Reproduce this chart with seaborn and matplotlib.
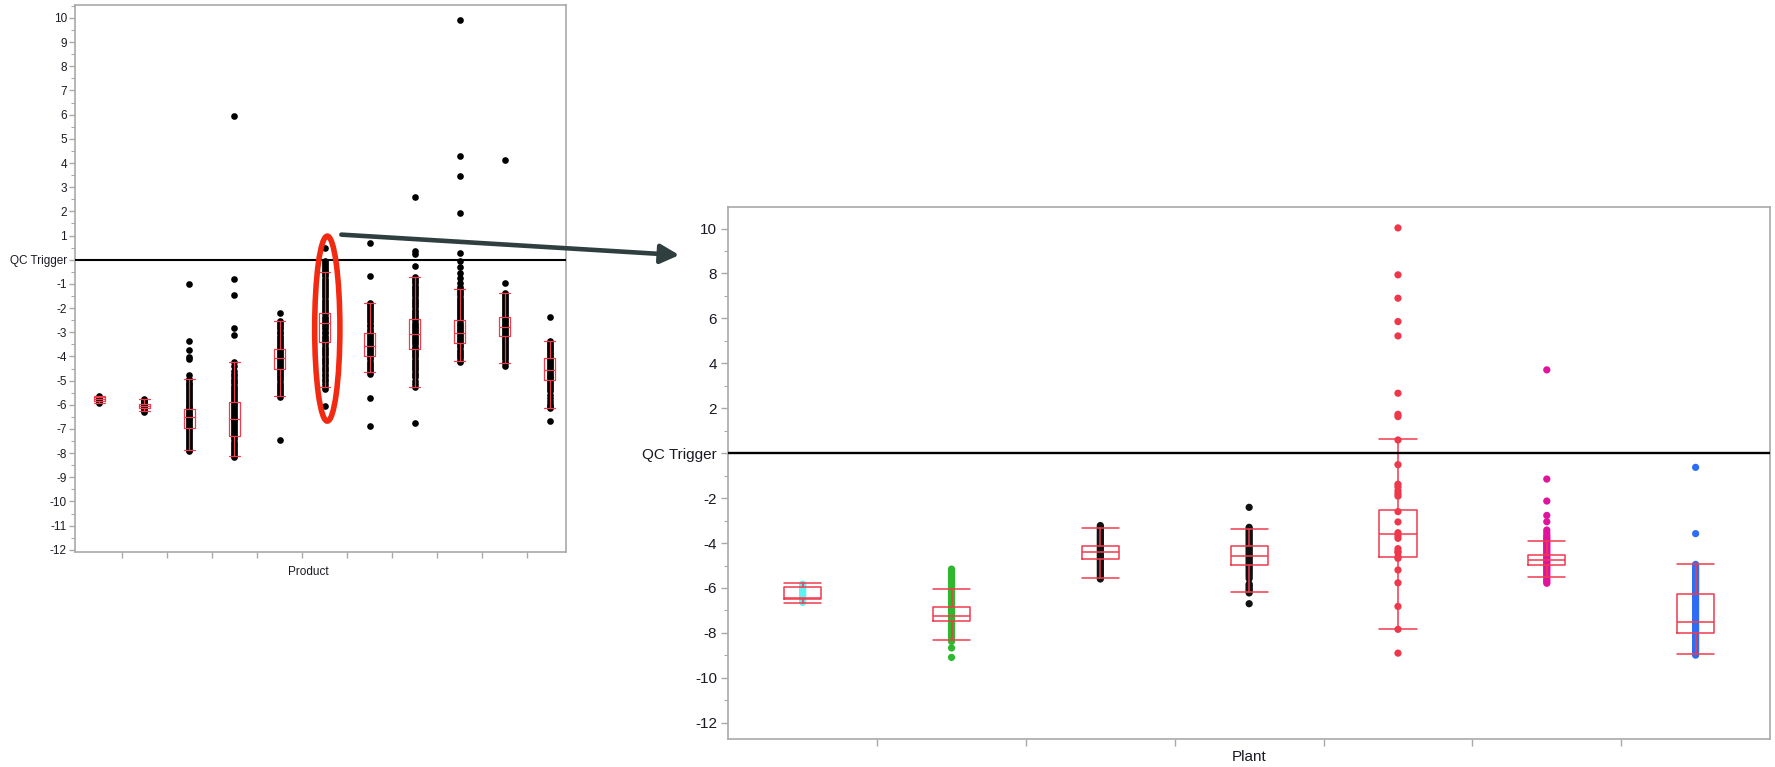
import matplotlib
matplotlib.use("Agg")
import matplotlib.pyplot as plt
import pandas as pd
import seaborn as sns
from matplotlib.patches import Ellipse, FancyArrowPatch
from matplotlib.ticker import FixedLocator, MultipleLocator

# ---------------------------------------------------------------- data
# Left panel: deviation by product (11 products)
products = ["P01", "P02", "P03", "P04", "P05", "P06", "P07", "P08", "P09", "P10", "P11"]
prod_01 = [-5.63, -5.66, -5.70, -5.73, -5.75, -5.77, -5.80, -5.82, -5.85, -5.88, -5.91]
prod_02 = [-5.76, -5.80, -5.86, -5.90, -5.95, -5.98, -6.00, -6.03, -6.05, -6.08, -6.12, -6.15, -6.19, -6.24, -6.28]
prod_03 = [-1.01, -3.36, -3.73, -4.03, -4.09, -4.78, -4.92, -4.99, -5.08, -5.15, -5.24, -5.31, -5.40, -5.49,
           -5.56, -5.64, -5.73, -5.80, -5.88, -5.97, -6.04, -6.11, -6.18, -6.26, -6.33, -6.41, -6.47, -6.53,
           -6.60, -6.68, -6.75, -6.83, -6.90, -6.97, -7.06, -7.13, -7.21, -7.30, -7.38, -7.47, -7.55, -7.64,
           -7.72, -7.80, -7.87, -7.92]
prod_04 = [5.96, -0.79, -1.46, -2.82, -3.12, -4.23, -4.41, -4.60, -4.71, -4.83, -4.92, -5.02, -5.11, -5.21,
           -5.30, -5.38, -5.47, -5.55, -5.64, -5.72, -5.81, -5.89, -5.97, -6.05, -6.13, -6.20, -6.29, -6.37,
           -6.46, -6.53, -6.61, -6.69, -6.77, -6.85, -6.93, -7.01, -7.10, -7.18, -7.26, -7.35, -7.43, -7.52,
           -7.61, -7.69, -7.78, -7.86, -7.95, -8.03, -8.10, -8.14]
prod_05 = [-2.19, -2.54, -2.62, -2.71, -2.79, -2.88, -2.97, -3.05, -3.14, -3.23, -3.31, -3.40, -3.48, -3.57,
           -3.66, -3.74, -3.82, -3.90, -3.98, -4.05, -4.13, -4.21, -4.30, -4.38, -4.47, -4.55, -4.64, -4.73,
           -4.81, -4.90, -4.99, -5.08, -5.17, -5.26, -5.35, -5.44, -5.52, -5.60, -5.68, -7.45]
prod_06 = [0.48, -0.05, -0.13, -0.21, -0.29, -0.38, -0.46, -0.52, -0.61, -0.69, -0.78, -0.86, -0.95, -1.04,
           -1.12, -1.21, -1.30, -1.38, -1.47, -1.56, -1.65, -1.73, -1.82, -1.91, -2.00, -2.09, -2.17, -2.26,
           -2.35, -2.44, -2.53, -2.61, -2.70, -2.79, -2.88, -2.97, -3.05, -3.14, -3.23, -3.32, -3.41, -3.50,
           -3.59, -3.68, -3.77, -3.86, -3.96, -4.05, -4.14, -4.24, -4.33, -4.43, -4.53, -4.62, -4.72, -4.82,
           -4.93, -5.03, -5.14, -5.26, -5.36, -6.03]
prod_07 = [0.68, -0.67, -1.77, -1.84, -1.93, -2.01, -2.09, -2.18, -2.26, -2.34, -2.43, -2.51, -2.59, -2.68,
           -2.76, -2.85, -2.93, -3.02, -3.10, -3.19, -3.27, -3.36, -3.44, -3.53, -3.61, -3.70, -3.78, -3.87,
           -3.95, -4.04, -4.12, -4.21, -4.30, -4.39, -4.47, -4.56, -4.64, -4.72, -5.70, -6.86]
prod_08 = [2.58, 0.34, 0.24, -0.24, -0.72, -0.80, -0.89, -0.98, -1.07, -1.16, -1.25, -1.34, -1.43, -1.52,
           -1.61, -1.70, -1.79, -1.88, -1.97, -2.06, -2.15, -2.24, -2.33, -2.42, -2.51, -2.60, -2.69, -2.78,
           -2.87, -2.96, -3.05, -3.14, -3.23, -3.32, -3.41, -3.50, -3.59, -3.68, -3.77, -3.86, -3.95, -4.04,
           -4.13, -4.22, -4.31, -4.40, -4.49, -4.58, -4.67, -4.76, -4.86, -5.01, -5.14, -5.26, -6.74]
prod_09 = [9.92, 4.29, 3.45, 1.95, 0.27, -0.05, -0.29, -0.53, -0.74, -0.97, -1.11, -1.22, -1.31, -1.39,
           -1.48, -1.57, -1.65, -1.74, -1.83, -1.91, -2.00, -2.08, -2.17, -2.26, -2.34, -2.43, -2.51, -2.60,
           -2.68, -2.77, -2.86, -2.94, -3.03, -3.11, -3.20, -3.28, -3.37, -3.46, -3.54, -3.63, -3.72, -3.81,
           -3.90, -3.99, -4.08, -4.19, -4.25]
prod_10 = [4.13, -0.97, -1.39, -1.47, -1.55, -1.63, -1.71, -1.80, -1.88, -1.96, -2.04, -2.12, -2.21, -2.29,
           -2.37, -2.45, -2.53, -2.61, -2.70, -2.78, -2.86, -2.94, -3.02, -3.11, -3.19, -3.27, -3.36, -3.44,
           -3.52, -3.61, -3.69, -3.78, -3.86, -3.95, -4.03, -4.12, -4.21, -4.29, -4.38]
prod_11 = [-2.37, -3.35, -3.43, -3.51, -3.59, -3.67, -3.75, -3.83, -3.91, -3.99, -4.07, -4.15, -4.23, -4.31,
           -4.39, -4.47, -4.55, -4.63, -4.71, -4.79, -4.87, -4.95, -5.03, -5.11, -5.19, -5.27, -5.35, -5.44,
           -5.58, -5.72, -5.86, -5.95, -6.03, -6.10, -6.14, -6.69]

# Box-plot summaries per product
prod_whisker_hi = [-5.63, -5.76, -4.92, -4.23, -2.54, -0.52, -1.77, -0.72, -1.22, -1.39, -3.35]
prod_q3 = [-5.66, -5.96, -6.18, -5.87, -3.70, -2.19, -3.04, -2.46, -2.49, -2.38, -4.05]
prod_median = [-5.76, -6.03, -6.49, -6.60, -4.05, -2.63, -3.56, -3.08, -3.04, -2.79, -4.56]
prod_q1 = [-5.86, -6.13, -6.97, -7.29, -4.52, -3.39, -3.97, -3.68, -3.43, -3.14, -4.98]
prod_whisker_lo = [-5.91, -6.24, -7.87, -8.10, -5.63, -5.26, -4.64, -5.26, -4.19, -4.26, -6.14]

# Right panel: deviation by plant for the highlighted product
plants = ["Plant A", "Plant B", "Plant C", "Plant D", "Plant E", "Plant F", "Plant G"]
plant_colors = ["#5ef2f2", "#2db82d", "#111111", "#111111", "#f0364a", "#e0139c", "#2e6cf4"]
plant_a = [-5.83, -5.89, -5.96, -6.04, -6.11, -6.19, -6.27, -6.34, -6.41, -6.49, -6.56, -6.64]
plant_b = [-5.16, -5.21, -5.28, -5.36, -5.43, -5.51, -5.59, -5.66, -5.74, -5.82, -5.89, -5.97, -6.05,
           -6.12, -6.20, -6.28, -6.35, -6.43, -6.51, -6.58, -6.66, -6.74, -6.82, -6.89, -6.97, -7.05,
           -7.13, -7.20, -7.28, -7.36, -7.44, -7.52, -7.60, -7.68, -7.76, -7.84, -7.93, -8.02, -8.11,
           -8.20, -8.29, -8.38, -8.67, -9.09]
plant_c = [-3.22, -3.28, -3.35, -3.42, -3.49, -3.56, -3.63, -3.70, -3.77, -3.84, -3.91, -3.98, -4.05,
           -4.12, -4.19, -4.26, -4.33, -4.40, -4.47, -4.54, -4.61, -4.68, -4.75, -4.82, -4.90, -4.97,
           -5.05, -5.13, -5.21, -5.29, -5.37, -5.45, -5.53, -5.60]
plant_d = [-2.41, -3.30, -3.37, -3.45, -3.53, -3.61, -3.69, -3.77, -3.85, -3.93, -4.01, -4.09, -4.17,
           -4.25, -4.33, -4.41, -4.49, -4.57, -4.65, -4.73, -4.81, -4.89, -4.97, -5.05, -5.13, -5.21,
           -5.30, -5.39, -5.48, -5.58, -5.82, -5.88, -5.95, -6.02, -6.09, -6.16, -6.22, -6.70]
plant_e = [10.03, 7.94, 6.90, 5.86, 5.22, 2.67, 1.73, 1.63, 0.59, -0.51, -1.38, -1.50, -1.67, -1.80,
           -1.91, -2.60, -3.06, -3.54, -3.67, -3.79, -4.25, -4.37, -4.43, -4.61, -4.68, -5.20, -5.77,
           -6.82, -7.84, -8.90]
plant_f = [3.71, -1.15, -2.13, -2.77, -3.05, -3.42, -3.53, -3.64, -3.72, -3.79, -3.86, -3.93, -4.00,
           -4.07, -4.14, -4.21, -4.28, -4.35, -4.42, -4.49, -4.56, -4.63, -4.70, -4.77, -4.84, -4.91,
           -4.98, -5.05, -5.12, -5.19, -5.26, -5.34, -5.42, -5.50, -5.58, -5.66, -5.73, -5.79]
plant_g = [-0.63, -3.58, -4.95, -5.03, -5.11, -5.19, -5.27, -5.35, -5.43, -5.51, -5.59, -5.67, -5.75,
           -5.83, -5.91, -5.99, -6.07, -6.15, -6.23, -6.31, -6.39, -6.47, -6.55, -6.63, -6.71, -6.79,
           -6.87, -6.95, -7.03, -7.11, -7.19, -7.27, -7.35, -7.43, -7.51, -7.59, -7.67, -7.75, -7.83,
           -7.91, -7.99, -8.07, -8.15, -8.23, -8.31, -8.39, -8.47, -8.55, -8.63, -8.71, -8.79, -8.87,
           -8.94, -8.99]

plant_whisker_hi = [-5.79, -6.05, -3.32, -3.36, 0.63, -3.89, -4.93]
plant_q3 = [-5.94, -6.85, -4.13, -4.12, -2.55, -4.52, -6.26]
plant_median = [-6.45, -7.25, -4.41, -4.56, -3.60, -4.76, -7.53]
plant_q1 = [-6.50, -7.47, -4.71, -4.99, -4.63, -4.99, -8.01]
plant_whisker_lo = [-6.66, -8.33, -5.57, -6.19, -7.83, -5.51, -8.94]

# Axis ticks and labels
prod_yticks = [10, 9, 8, 7, 6, 5, 4, 3, 2, 1, 0, -1, -2, -3, -4, -5, -6, -7, -8, -9, -10, -11, -12]
prod_yticklabels = ["10", "9", "8", "7", "6", "5", "4", "3", "2", "1", "QC Trigger", "-1", "-2", "-3",
                    "-4", "-5", "-6", "-7", "-8", "-9", "-10", "-11", "-12"]
plant_yticks = [10, 8, 6, 4, 2, 0, -2, -4, -6, -8, -10, -12]
plant_yticklabels = ["10", "8", "6", "4", "2", "QC Trigger", "-2", "-4", "-6", "-8", "-10", "-12"]
qc_trigger = 0.0
highlighted_product = 5

# ---------------------------------------------------------------- style
sns.set_style("white")
plt.rcParams["font.family"] = ["Liberation Sans", "DejaVu Sans"]

FRAME = "#a9a9a9"
BOX_RED = "#ef3b4e"
TEXT = "#1a1a24"


def long_table(names, series, key):
    rows = []
    for name, vals in zip(names, series):
        rows += [(name, v) for v in vals]
    return pd.DataFrame(rows, columns=[key, "Value"])


def box_stats(lo, q1, med, q3, hi):
    return [dict(whislo=a, q1=b, med=c, q3=d, whishi=e, fliers=[])
            for a, b, c, d, e in zip(lo, q1, med, q3, hi)]


def style_axes(ax, fs, tick_len, pad):
    for sp in ax.spines.values():
        sp.set_color(FRAME)
        sp.set_linewidth(1.2)
    ax.tick_params(axis="x", which="major", bottom=True, top=False)
    ax.tick_params(axis="y", which="both", left=True, right=False)
    ax.tick_params(axis="both", which="major", direction="out", color=FRAME, width=1.0,
                   length=tick_len, labelsize=fs, labelcolor=TEXT, pad=pad)
    ax.tick_params(axis="y", which="minor", direction="out", color=FRAME, width=0.8,
                   length=tick_len * 0.55)
    ax.set_ylabel("")
    ax.grid(False)


fig = plt.figure(figsize=(17.75, 7.67), dpi=100)
fig.patch.set_facecolor("white")
ax_l = fig.add_axes([0.04248, 0.2806, 0.2762, 0.7124])
ax_r = fig.add_axes([0.4103, 0.0360, 0.5869, 0.6947])

# ---------------------------------------------------------------- left panel
df_prod = long_table(products, [prod_01, prod_02, prod_03, prod_04, prod_05, prod_06,
                                prod_07, prod_08, prod_09, prod_10, prod_11], "Product")
sns.stripplot(data=df_prod, x="Product", y="Value", order=products, color="black",
              jitter=False, size=4.8, linewidth=0, ax=ax_l, zorder=2)
line_kw = dict(color=BOX_RED, linewidth=0.9)
ax_l.bxp(box_stats(prod_whisker_lo, prod_q1, prod_median, prod_q3, prod_whisker_hi),
         positions=range(len(products)), widths=0.24, capwidths=0.24, showfliers=False,
         boxprops=line_kw, whiskerprops=line_kw, capprops=line_kw, medianprops=line_kw,
         manage_ticks=False, zorder=3)
ax_l.axhline(qc_trigger, color="black", linewidth=1.5, zorder=4)
ax_l.set_xlim(-0.53, 10.35)
ax_l.set_ylim(-12.08, 10.52)
ax_l.xaxis.set_major_locator(FixedLocator([i + 0.5 for i in range(len(products) - 1)]))
ax_l.set_xticklabels([])
ax_l.yaxis.set_major_locator(FixedLocator(prod_yticks))
ax_l.set_yticklabels(prod_yticklabels)
ax_l.yaxis.set_minor_locator(MultipleLocator(0.5))
style_axes(ax_l, 8.5, 4.6, 1.5)
ax_l.set_xlabel("Product", fontsize=8.5, color=TEXT)
ax_l.xaxis.set_label_coords(0.4745, -0.026)

# highlight ring around one product's column
ax_l.add_patch(Ellipse((highlighted_product + 0.06, -2.85), width=0.56, height=7.65, fill=False,
                       edgecolor="#f22a12", linewidth=4.0, clip_on=False, zorder=6))

# ---------------------------------------------------------------- right panel
df_plant = long_table(plants, [plant_a, plant_b, plant_c, plant_d, plant_e, plant_f, plant_g], "Plant")
sns.stripplot(data=df_plant, x="Plant", y="Value", hue="Plant", order=plants,
              palette=dict(zip(plants, plant_colors)), jitter=False, size=5.2, linewidth=0,
              legend=False, ax=ax_r, zorder=2)
line_kw_r = dict(color=BOX_RED, linewidth=1.1)
ax_r.bxp(box_stats(plant_whisker_lo, plant_q1, plant_median, plant_q3, plant_whisker_hi),
         positions=range(len(plants)), widths=0.25, capwidths=0.25, showfliers=False,
         boxprops=line_kw_r, whiskerprops=line_kw_r, capprops=line_kw_r, medianprops=line_kw_r,
         manage_ticks=False, zorder=3)
ax_r.axhline(qc_trigger, color="black", linewidth=1.7, zorder=4)
ax_r.set_xlim(-0.5, 6.5)
ax_r.set_ylim(-12.74, 10.98)
ax_r.xaxis.set_major_locator(FixedLocator([i + 0.5 for i in range(len(plants) - 1)]))
ax_r.set_xticklabels([])
ax_r.yaxis.set_major_locator(FixedLocator(plant_yticks))
ax_r.set_yticklabels(plant_yticklabels)
ax_r.yaxis.set_minor_locator(MultipleLocator(1))
style_axes(ax_r, 11, 5.0, 3.0)
ax_r.set_xlabel("Plant", fontsize=11, color=TEXT)
ax_r.xaxis.set_label_coords(0.5, -0.02)

# ---------------------------------------------------------------- call-out arrow
arrow = FancyArrowPatch((0.1923, 0.6941), (0.3827, 0.6674), transform=fig.transFigure,
                        arrowstyle="-|>,head_length=0.7,head_width=0.36", mutation_scale=16,
                        linewidth=3.3, color="#2f3f3f", shrinkA=0, shrinkB=0, zorder=10)
fig.add_artist(arrow)

fig.savefig("out.png", dpi=100, facecolor="white")
